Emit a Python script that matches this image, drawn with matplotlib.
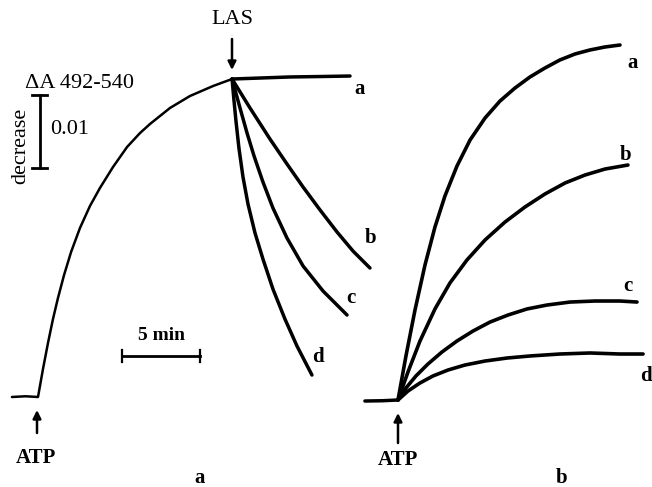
import matplotlib
matplotlib.use("Agg")
import matplotlib.pyplot as plt

# scale of the recorder trace (pixels per unit)
PX_PER_MIN = 15.6
PX_PER_MA = 7.3          # 1 mA = 0.001 absorbance
ORIGIN_PX = (38, 397)    # ATP addition of panel a
PANEL_B_SHIFT = ((398 - 38) / PX_PER_MIN, (397 - 400) / PX_PER_MA)

# ---- panel a: ATP-induced rise, then LAS addition ----
rise_t = [-1.67, -0.8, 0.0, 0.32, 0.64, 0.96, 1.28, 1.67, 2.12, 2.69, 3.33,
          3.97, 4.81, 5.71, 6.54, 7.18, 8.46, 9.74, 11.22, 12.44]
rise_a = [0.0, 0.1, 0.0, 3.84, 7.40, 10.68, 13.56, 16.71, 19.86, 23.15, 26.16,
          28.63, 31.51, 34.25, 36.16, 37.40, 39.59, 41.23, 42.60, 43.56]

las_t = {
    "a": [12.44, 14.3, 16.15, 18.1, 20.0],
    "b": [12.44, 13.59, 14.87, 15.96, 16.99, 18.08, 19.17, 20.19, 21.28],
    "c": [12.44, 12.95, 13.40, 13.85, 14.42, 15.06, 15.96, 16.99, 18.27, 19.81],
    "d": [12.44, 12.56, 12.69, 12.88, 13.14, 13.46, 13.91, 14.42, 15.06, 15.83,
          16.6, 17.56],
}
las_a = {
    "a": [43.56, 43.7, 43.84, 43.9, 43.97],
    "b": [43.56, 39.59, 35.34, 31.92, 28.77, 25.62, 22.60, 20.0, 17.67],
    "c": [43.56, 39.59, 36.16, 33.01, 29.45, 25.89, 21.78, 17.95, 14.52, 11.23],
    "d": [43.56, 40.68, 37.81, 34.11, 30.14, 26.44, 22.47, 18.90, 14.79, 10.68,
          6.99, 3.01],
}

# ---- panel b: ATP addition with different inhibitor levels ----
base_t = [-2.12, -1.0, 0.0]
base_a = [-0.14, -0.1, 0.0]
b_t = {
    "a": [0.0, 0.51, 1.09, 1.73, 2.37, 3.01, 3.78, 4.62, 5.58, 6.54, 7.50,
          8.46, 9.42, 10.38, 11.35, 12.31, 13.27, 14.23],
    "b": [0.0, 0.64, 1.41, 2.37, 3.33, 4.42, 5.58, 6.86, 8.14, 9.42, 10.71,
          11.99, 13.27, 14.74],
    "c": [0.0, 0.51, 1.15, 1.92, 2.82, 3.78, 4.81, 5.90, 7.05, 8.27, 9.55,
          11.03, 12.63, 14.23, 15.32],
    "d": [0.0, 0.64, 1.41, 2.24, 3.21, 4.29, 5.58, 6.99, 8.46, 10.38, 12.31,
          14.23, 15.71],
}
b_a = {
    "a": [0.0, 6.03, 12.33, 18.49, 23.70, 27.95, 32.05, 35.62, 38.63, 40.96,
          42.74, 44.25, 45.48, 46.58, 47.40, 47.95, 48.36, 48.63],
    "b": [0.0, 3.84, 8.08, 12.47, 16.03, 19.18, 21.92, 24.38, 26.44, 28.22,
          29.73, 30.82, 31.64, 32.19],
    "c": [0.0, 1.64, 3.29, 4.93, 6.58, 8.08, 9.45, 10.68, 11.64, 12.47, 13.01,
          13.42, 13.56, 13.56, 13.42],
    "d": [0.0, 1.23, 2.33, 3.29, 4.11, 4.79, 5.34, 5.75, 6.03, 6.30, 6.44,
          6.30, 6.30],
}


def px(x, y):
    """figure pixel position -> trace coordinates"""
    return ((x - ORIGIN_PX[0]) / PX_PER_MIN, (ORIGIN_PX[1] - y) / PX_PER_MA)


fig = plt.figure(figsize=(6.52, 4.87), dpi=100)
ax = fig.add_axes([0, 0, 1, 1])
ax.set_xlim(px(0, 0)[0], px(652, 0)[0])
ax.set_ylim(px(0, 487)[1], px(0, 0)[1])
ax.axis("off")

serif = "Liberation Serif"
k = "black"
trace = dict(color=k, solid_joinstyle="round", solid_capstyle="round")

# traces, panel a
ax.plot(rise_t, rise_a, lw=1.8, **trace)
for key in "abcd":
    ax.plot(las_t[key], las_a[key], lw=2.5, **trace)

# traces, panel b
sx, sy = PANEL_B_SHIFT
ax.plot([t + sx for t in base_t], [a + sy for a in base_a], lw=2.5, **trace)
for key in "abcd":
    ax.plot([t + sx for t in b_t[key]], [a + sy for a in b_a[key]], lw=2.6, **trace)

# curve letters
bold = dict(family=serif, fontweight="bold", fontsize=15, ha="center", va="center")
for key, pos in zip("abcd", [(360, 89), (371, 238), (351, 298), (318, 357)]):
    ax.text(*px(*pos), key, **bold)
for key, pos in zip("abcd", [(633, 63), (626, 155), (628, 286), (646, 376)]):
    ax.text(*px(*pos), key, **bold)

# arrows
arrow = dict(arrowstyle="-|>", color=k, lw=1.8, mutation_scale=12, shrinkA=0, shrinkB=0)
ax.annotate("", xy=px(232, 70), xytext=px(232, 39), arrowprops=arrow)
ax.annotate("", xy=px(37, 410), xytext=px(37, 433), arrowprops=arrow)
ax.annotate("", xy=px(398, 413), xytext=px(398, 443), arrowprops=arrow)
ax.text(*px(232, 19), "LAS", family=serif, fontsize=16, ha="center", va="center")
ax.text(*px(36, 458), "ATP", **bold)
ax.text(*px(398, 460), "ATP", **bold)

# absorbance scale bar (0.01 = 10 mA)
x0, y0 = px(39.5, 95)
ax.plot([x0, x0], [y0, y0 - 10], color=k, lw=2)
for yy in (y0, y0 - 10):
    ax.plot([px(32, 0)[0], px(47, 0)[0]], [yy, yy], color=k, lw=2)
ax.text(*px(25, 83), "\u0394A 492-540", family=serif, fontsize=16, ha="left", va="center")
ax.text(*px(50, 130), "0.01", family=serif, fontsize=16, ha="left", va="center")
ax.text(*px(21, 146), "decrease", family=serif, fontsize=16, rotation=90,
        ha="center", va="center")

# time scale bar (5 min)
tx0, ty0 = px(122, 356)
ax.plot([tx0, tx0 + 5], [ty0, ty0], color=k, lw=2)
for xx in (tx0, tx0 + 5):
    ax.plot([xx, xx], [ty0 - 0.8, ty0 + 0.8], color=k, lw=1.6)
ax.text(*px(162, 336), "5 min", **{**bold, "fontsize": 14})

# panel letters
ax.text(*px(200, 478), "a", **bold)
ax.text(*px(562, 478), "b", **bold)

fig.savefig("out.png", dpi=100, facecolor="white")
